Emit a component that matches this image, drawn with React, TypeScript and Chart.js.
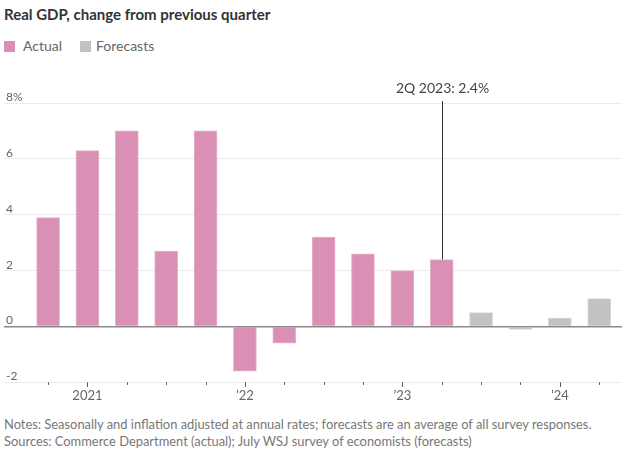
import React, { useEffect, useRef } from "react";
import { Chart, registerables } from "chart.js";

Chart.register(...registerables);

const quarters = [
  "4Q 2020", "1Q 2021", "2Q 2021", "3Q 2021", "4Q 2021",
  "1Q 2022", "2Q 2022", "3Q 2022", "4Q 2022",
  "1Q 2023", "2Q 2023", "3Q 2023", "4Q 2023",
  "1Q 2024", "2Q 2024",
];
const actual: (number | null)[] = [3.9, 6.3, 7.0, 2.7, 7.0, -1.6, -0.6, 3.2, 2.6, 2.0, 2.4, null, null, null, null];
const forecasts: (number | null)[] = [null, null, null, null, null, null, null, null, null, null, null, 0.5, -0.1, 0.3, 1.0];
const yearLabels: Record<number, string> = { 1: "2021", 5: "\u201922", 9: "\u201923", 13: "\u201924" };
const yTicks = [-2, 0, 2, 4, 6, 8];
const annotationIndex = 10;

const PINK = "#d990b4";
const GRAY = "#c2c2c2";
const FONT = "Lato, 'Noto Sans', sans-serif";

export default function App() {
  const canvasRef = useRef<HTMLCanvasElement | null>(null);

  useEffect(() => {
    document.body.style.margin = "0";
    const canvas = canvasRef.current;
    if (!canvas) return;

    const tickMarks = {
      id: "tickMarks",
      afterDraw(chart: any) {
        const xs = chart.scales.x;
        const ctx = chart.ctx;
        const bottom = chart.chartArea.bottom;
        ctx.save();
        ctx.strokeStyle = "#555";
        ctx.lineWidth = 1;
        xs.ticks.forEach((t: any) => {
          const px = Math.round(xs.getPixelForValue(t.value)) + 0.5;
          const major = yearLabels[t.value] !== undefined;
          ctx.beginPath();
          ctx.moveTo(px, bottom);
          ctx.lineTo(px, bottom + (major ? 4.5 : 2.5));
          ctx.stroke();
        });
        ctx.restore();
      },
    };

    const annotation = {
      id: "annotation",
      afterDatasetsDraw(chart: any) {
        const xs = chart.scales.x;
        const ys = chart.scales.y;
        const ctx = chart.ctx;
        const v = actual[annotationIndex] as number;
        const px = Math.round(xs.getPixelForValue(annotationIndex)) + 0.5;
        const py = ys.getPixelForValue(v);
        ctx.save();
        ctx.strokeStyle = "#333";
        ctx.lineWidth = 1;
        ctx.beginPath();
        ctx.moveTo(px, chart.chartArea.top - 2);
        ctx.lineTo(px, py);
        ctx.stroke();
        ctx.fillStyle = "#444";
        ctx.font = `14px ${FONT}`;
        ctx.textAlign = "center";
        ctx.textBaseline = "middle";
        ctx.fillText(`${quarters[annotationIndex]}: ${v.toFixed(1)}%`, px, chart.chartArea.top - 15);
        ctx.restore();
      },
    };

    const chart = new Chart(canvas, {
      type: "bar",
      data: {
        datasets: [
          {
            label: "Actual",
            data: actual.map((v, i) => ({ x: i, y: v })) as any,
            backgroundColor: PINK,
            borderColor: "#e6b3cc",
            borderWidth: 1,
            barThickness: 23,
            grouped: false,
          } as any,
          {
            label: "Forecasts",
            data: forecasts.map((v, i) => ({ x: i, y: v })) as any,
            backgroundColor: GRAY,
            borderColor: "#d6d6d6",
            borderWidth: 1,
            barThickness: 23,
            grouped: false,
          } as any,
        ],
      },
      options: {
        animation: false,
        responsive: false,
        maintainAspectRatio: false,
        layout: { padding: { top: 43, left: 0, right: 2, bottom: 0 } },
        plugins: {
          legend: { display: false },
          tooltip: { enabled: false },
        },
        scales: {
          x: {
            type: "linear",
            offset: false,
            min: -1.12,
            max: 14.58,
            afterBuildTicks: (scale: any) => {
              scale.ticks = quarters.map((_, i) => ({ value: i }));
            },
            grid: { display: false, drawTicks: false, offset: false },
            border: { display: false },
            ticks: {
              autoSkip: false,
              maxRotation: 0,
              padding: 6,
              color: "#666",
              font: { family: FONT, size: 13 },
              callback: (v: any) => yearLabels[v as number] ?? "",
            },
          },
          y: {
            min: -2,
            max: 8,
            afterBuildTicks: (scale: any) => {
              scale.ticks = yTicks.map((v) => ({ value: v }));
            },
            grid: {
              drawTicks: false,
              color: (ctx: any) => (ctx.tick && ctx.tick.value === 0 ? "#8a8a8a" : "#ebebeb"),
              lineWidth: (ctx: any) => (ctx.tick && ctx.tick.value === 0 ? 1.5 : 1),
            },
            border: { display: false },
            ticks: {
              mirror: true,
              padding: 2,
              labelOffset: -6,
              color: "#666",
              font: { family: FONT, size: 12 },
              callback: (v: any) => (v === 8 ? "8%" : String(v)),
            },
          },
        },
      } as any,
      plugins: [tickMarks, annotation],
    });
    return () => chart.destroy();
  }, []);

  return (
    <div style={{ position: "relative", width: 624, height: 456, fontFamily: FONT, background: "#fff" }}>
      <div style={{ position: "absolute", left: 4, top: 4, fontSize: 15, lineHeight: "20px", fontWeight: 700, color: "#333", whiteSpace: "nowrap" }}>
        Real GDP, change from previous quarter
      </div>
      <div style={{ position: "absolute", left: 4, top: 41, width: 11, height: 11, background: PINK }} />
      <div style={{ position: "absolute", left: 23, top: 37, fontSize: 14, lineHeight: "18px", color: "#666" }}>Actual</div>
      <div style={{ position: "absolute", left: 80, top: 41, width: 11, height: 11, background: GRAY }} />
      <div style={{ position: "absolute", left: 96, top: 37, fontSize: 14, lineHeight: "18px", color: "#666" }}>Forecasts</div>
      <canvas ref={canvasRef} width={624} height={350} style={{ position: "absolute", left: 0, top: 60, width: 624, height: 350 }} />
      <div style={{ position: "absolute", left: 4, top: 416, fontSize: 12.9, lineHeight: "17px", color: "#777", whiteSpace: "nowrap" }}>
        <div>Notes: Seasonally and inflation adjusted at annual rates; forecasts are an average of all survey responses.</div>
        <div>Sources: Commerce Department (actual); July WSJ survey of economists (forecasts)</div>
      </div>
    </div>
  );
}
